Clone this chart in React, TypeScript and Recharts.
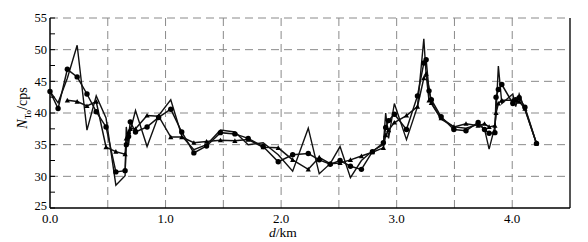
import { LineChart, Line, XAxis, YAxis, CartesianGrid, ReferenceLine } from "recharts";

// distance along the profile, km
const DIST = [
  0.0, 0.07, 0.15, 0.235, 0.32, 0.4, 0.485, 0.57, 0.65, 0.66, 0.68, 0.695, 0.74, 0.84, 0.94,
  1.045, 1.14, 1.245, 1.355, 1.475, 1.6, 1.715, 1.845, 1.975, 2.1, 2.235, 2.33, 2.425, 2.51,
  2.6, 2.695, 2.79, 2.885, 2.905, 2.93, 2.98, 3.085, 3.18, 3.235, 3.255, 3.28, 3.3, 3.385,
  3.495, 3.6, 3.705, 3.76, 3.8, 3.85, 3.86, 3.88, 3.91, 4.005, 4.03, 4.06, 4.11, 4.21,
];

// plain line (no markers)
const THIN = [
  43.4, 41.6, 45.5, 50.7, 37.3, 42.7, 39.2, 28.6, 30.1, 37.8, 35.0, 37.2, 40.4, 34.7, 39.6,
  42.1, 36.4, 34.2, 35.0, 37.3, 37.0, 35.0, 35.3, 33.4, 30.8, 37.6, 30.4, 32.0, 34.7,
  29.8, 32.5, 34.0, 35.0, 40.0, 36.0, 41.5, 35.8, 41.0, 51.7, 46.0, 44.0, 41.5, 39.0,
  37.8, 37.6, 38.2, 37.5, 34.3, 37.9, 40.0, 47.4, 41.5, 43.0, 41.0, 43.0, 40.5, 35.2,
];

// line with round markers
const CIRCLE = [
  43.4, 40.7, 46.9, 45.7, 43.0, 40.2, 37.8, 30.7, 30.9, 35.0, 36.3, 38.6, 37.0, 37.8, 39.3,
  40.6, 37.0, 33.7, 34.8, 36.9, 36.7, 36.0, 34.7, 32.3, 33.4, 33.6, 32.6, 31.9, 32.5,
  31.6, 31.1, 33.9, 35.3, 37.7, 38.8, 39.8, 37.4, 42.7, 47.9, 48.4, 43.5, 42.1, 39.4,
  37.4, 37.2, 38.5, 37.4, 36.8, 36.9, 42.5, 43.7, 44.5, 41.5, 42.1, 42.4, 40.9, 35.2,
];

// line with triangle markers
const TRIANGLE = [
  null, null, 42.0, 41.8, 41.1, 41.8, 34.6, 33.9, 33.5, 36.0, 37.0, 37.5, 37.5, 39.6, 39.5,
  36.2, 36.2, 35.3, 35.5, 35.7, 35.6, 35.8, 34.6, 34.5, 32.6, 31.1, 33.0, 32.0, 32.1,
  32.6, 33.2, 33.8, 34.5, 36.5, 37.3, 38.5, 39.6, 41.0, 45.5, 46.2, 42.0, 41.6, 39.2,
  37.8, 38.3, 38.0, 38.3, 37.8, 38.0, 40.0, 41.5, 42.0, 42.0, 42.0, 41.8, 40.7, 35.2,
];

const X_TICKS = [0, 0.5, 1, 1.5, 2, 2.5, 3, 3.5, 4, 4.5];
const X_GRID = [0.5, 1, 1.5, 2, 2.5, 3, 3.5, 4];
const Y_TICKS = [25, 27.5, 30, 32.5, 35, 37.5, 40, 42.5, 45, 47.5, 50, 52.5, 55];
const Y_GRID = [30, 35, 40, 45, 50, 55];

const data = DIST.map((d, i) => ({ d, thin: THIN[i], circ: CIRCLE[i], tri: TRIANGLE[i] }));

const FONT = '"Liberation Serif", "Times New Roman", serif';

function YTick(props: any) {
  const { x, y, payload } = props;
  const major = payload.value % 5 === 0;
  return (
    <g>
      <line x1={x + 3} x2={x + 8} y1={y} y2={y} stroke="#000" strokeWidth={1} />
      {major && (
        <text
          x={x}
          y={payload.value === 25 ? y - 2 : y}
          dy="0.35em"
          textAnchor="end"
          fontSize={12.5}
          fontFamily={FONT}
          fill="#000"
        >
          {payload.value}
        </text>
      )}
    </g>
  );
}

function XTick(props: any) {
  const { x, y, payload } = props;
  if (!Number.isInteger(payload.value)) return <g />;
  return (
    <text x={x} y={y + 10} textAnchor="middle" fontSize={13} fontFamily={FONT} fill="#000">
      {payload.value.toFixed(1)}
    </text>
  );
}

function TriDot(props: any) {
  const { cx, cy, index } = props;
  if (cx == null || cy == null || props.value == null) return <g key={index} />;
  const s = 2.6;
  return (
    <polygon
      key={index}
      points={`${cx},${cy - s} ${cx - s},${cy + s * 0.8} ${cx + s},${cy + s * 0.8}`}
      fill="#000"
    />
  );
}

export default function App() {
  return (
    <div style={{ position: "absolute", left: 0, top: 0, width: 588, height: 242, background: "#fff" }}>
      <LineChart width={588} height={242} data={data} margin={{ top: 18, right: 18, left: 0, bottom: 0 }}>
        <CartesianGrid
          stroke="#8a8a8a"
          strokeDasharray="8 5"
          horizontalValues={Y_GRID}
          verticalValues={X_GRID}
        />
        <XAxis
          type="number"
          dataKey="d"
          domain={[0, 4.5]}
          ticks={X_TICKS}
          interval={0}
          tickLine={false}
          tickSize={0}
          tickMargin={5}
          height={34}
          axisLine={{ stroke: "#000", strokeWidth: 1.5 }}
          tick={(p: any) => <XTick {...p} />}
        />
        <YAxis
          type="number"
          domain={[25, 55]}
          ticks={Y_TICKS}
          interval={0}
          width={50}
          tickLine={false}
          tickSize={0}
          tickMargin={3}
          axisLine={{ stroke: "#000", strokeWidth: 1.5 }}
          tick={(p: any) => <YTick {...p} />}
        />
        <ReferenceLine x={4.5} stroke="#555" strokeWidth={2} />
        <Line
          type="linear"
          dataKey="thin"
          stroke="#111"
          strokeWidth={1.4}
          dot={false}
          isAnimationActive={false}
        />
        <Line
          type="linear"
          dataKey="tri"
          stroke="#111"
          strokeWidth={1.5}
          dot={(p: any) => <TriDot key={p.index} {...p} />}
          isAnimationActive={false}
        />
        <Line
          type="linear"
          dataKey="circ"
          stroke="#111"
          strokeWidth={1.5}
          dot={{ r: 2.7, fill: "#000", stroke: "none" }}
          isAnimationActive={false}
        />
      </LineChart>
      <div
        style={{
          position: "absolute",
          left: 24,
          top: 108,
          transform: "translate(-50%, -50%) rotate(-90deg)",
          whiteSpace: "nowrap",
          fontFamily: FONT,
          fontSize: 14,
          color: "#000",
        }}
      >
        <i>N</i>
        <sub style={{ fontSize: 9 }}>To</sub>/cps
      </div>
      <div
        style={{
          position: "absolute",
          left: 283,
          top: 233,
          transform: "translate(-50%, -50%)",
          whiteSpace: "nowrap",
          fontFamily: FONT,
          fontSize: 13.5,
          fontWeight: 400,
          lineHeight: 1,
          color: "#000",
        }}
      >
        <i>d</i>/km
      </div>
    </div>
  );
}
